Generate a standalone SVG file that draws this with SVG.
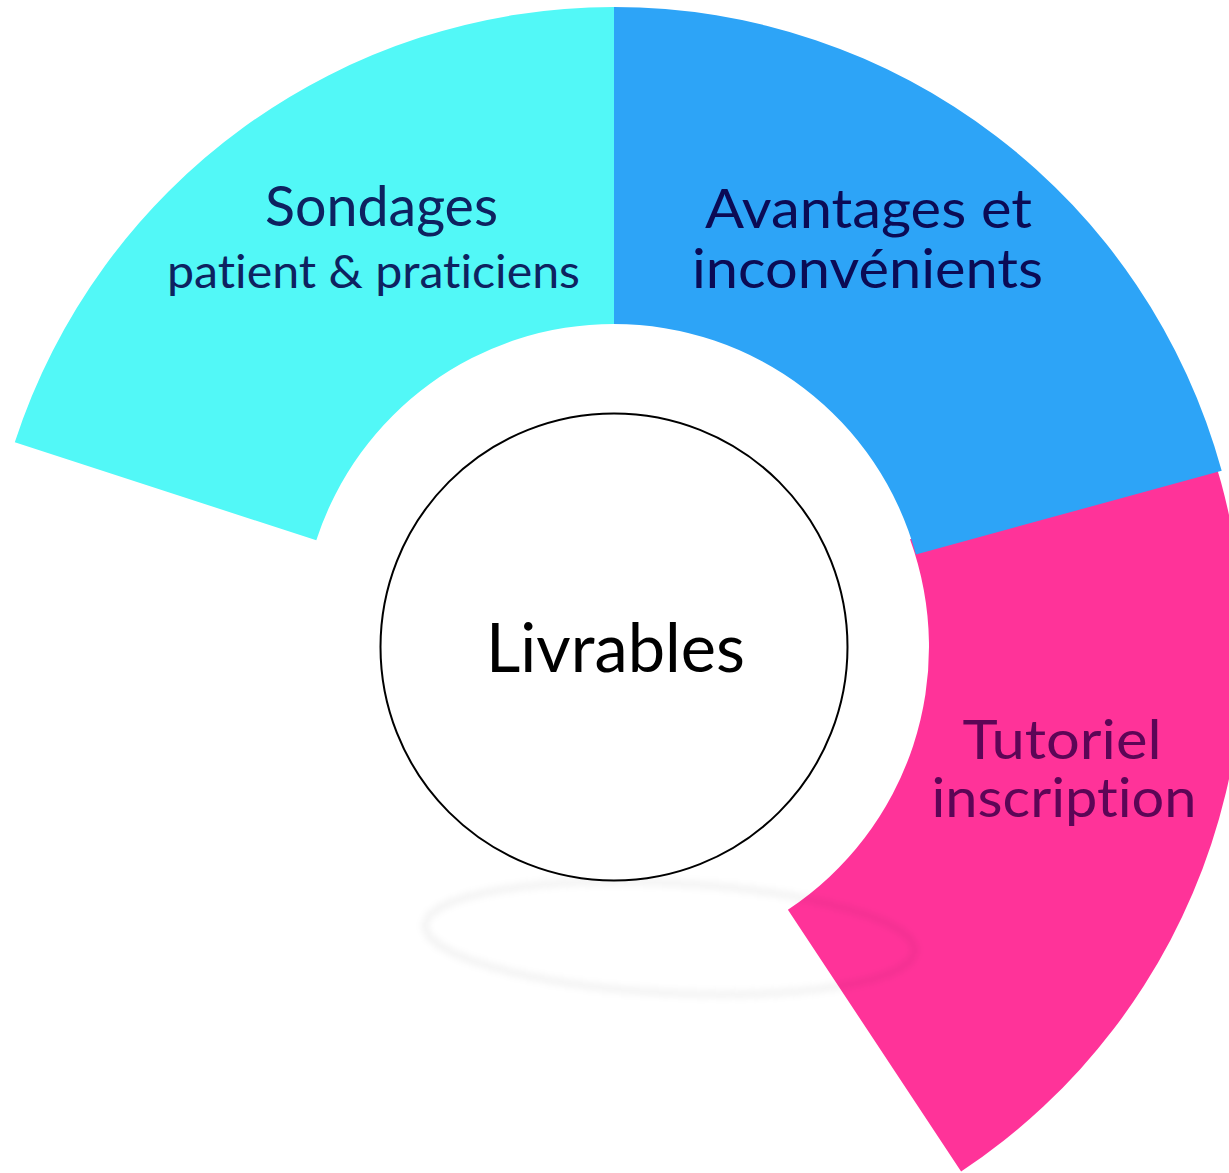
<svg xmlns="http://www.w3.org/2000/svg" width="1229" height="1173" viewBox="0 0 1229 1173">
  <style>
    .lbl { font-family: "Lato", "Open Sans", "Liberation Sans", sans-serif; text-anchor: middle; font-variant-ligatures: none; font-feature-settings: "liga" 0, "clig" 0; }
  </style>
  <defs>
    <filter id="blur" x="-20%" y="-50%" width="140%" height="200%">
      <feGaussianBlur stdDeviation="3"/>
    </filter>
  </defs>
  <rect width="1229" height="1173" fill="#ffffff"/>
  <g id="seg-tutoriel">
    <path d="M1205.1,431.9 A629,629 0 0 1 961.1,1171.5 L787.9,909.7 A315,315 0 0 0 910,539.3 Z" fill="#FF3399"/>
    <text class="lbl" x="1062" y="759" font-size="54" fill="#5C0656" textLength="199" lengthAdjust="spacingAndGlyphs">Tutoriel</text>
    <text class="lbl" x="1064" y="817" font-size="54" fill="#5C0656" textLength="265" lengthAdjust="spacingAndGlyphs">inscription</text>
  </g>
  <g id="seg-sondages">
    <path d="M614,7 A630,630 0 0 0 14.8,442.3 L316.3,540.3 A313,313 0 0 1 614,324 Z" fill="#52F8F7"/>
    <text class="lbl" x="381.5" y="226" font-size="57" fill="#0E2260" textLength="233" lengthAdjust="spacingAndGlyphs">Sondages</text>
    <text class="lbl" x="373.5" y="288" font-size="46" fill="#0E2260" textLength="413" lengthAdjust="spacingAndGlyphs">patient &amp; praticiens</text>
  </g>
  <g id="seg-avantages">
    <path d="M614,7 A630,630 0 0 1 1221.7,470.8 L915.9,554.4 A313,313 0 0 0 614,324 Z" fill="#2DA4F7"/>
    <text class="lbl" x="868.5" y="228" font-size="55" fill="#0B0B55" textLength="327" lengthAdjust="spacingAndGlyphs">Avantages et</text>
    <text class="lbl" x="867.5" y="288" font-size="55" fill="#0B0B55" textLength="351" lengthAdjust="spacingAndGlyphs">inconvénients</text>
  </g>
  <g id="shadow">
    <ellipse cx="670" cy="938" rx="245" ry="55" transform="rotate(3 670 938)" fill="none" stroke="#000000" stroke-opacity="0.045" stroke-width="8" filter="url(#blur)"/>
  </g>
  <g id="center-livrables">
    <circle cx="614" cy="647" r="233.5" fill="#ffffff" stroke="#000000" stroke-width="2"/>
    <text class="lbl" x="615.5" y="672" font-size="68" fill="#000000" textLength="259" lengthAdjust="spacingAndGlyphs">Livrables</text>
  </g>
  <g id="connectors"/>
</svg>
